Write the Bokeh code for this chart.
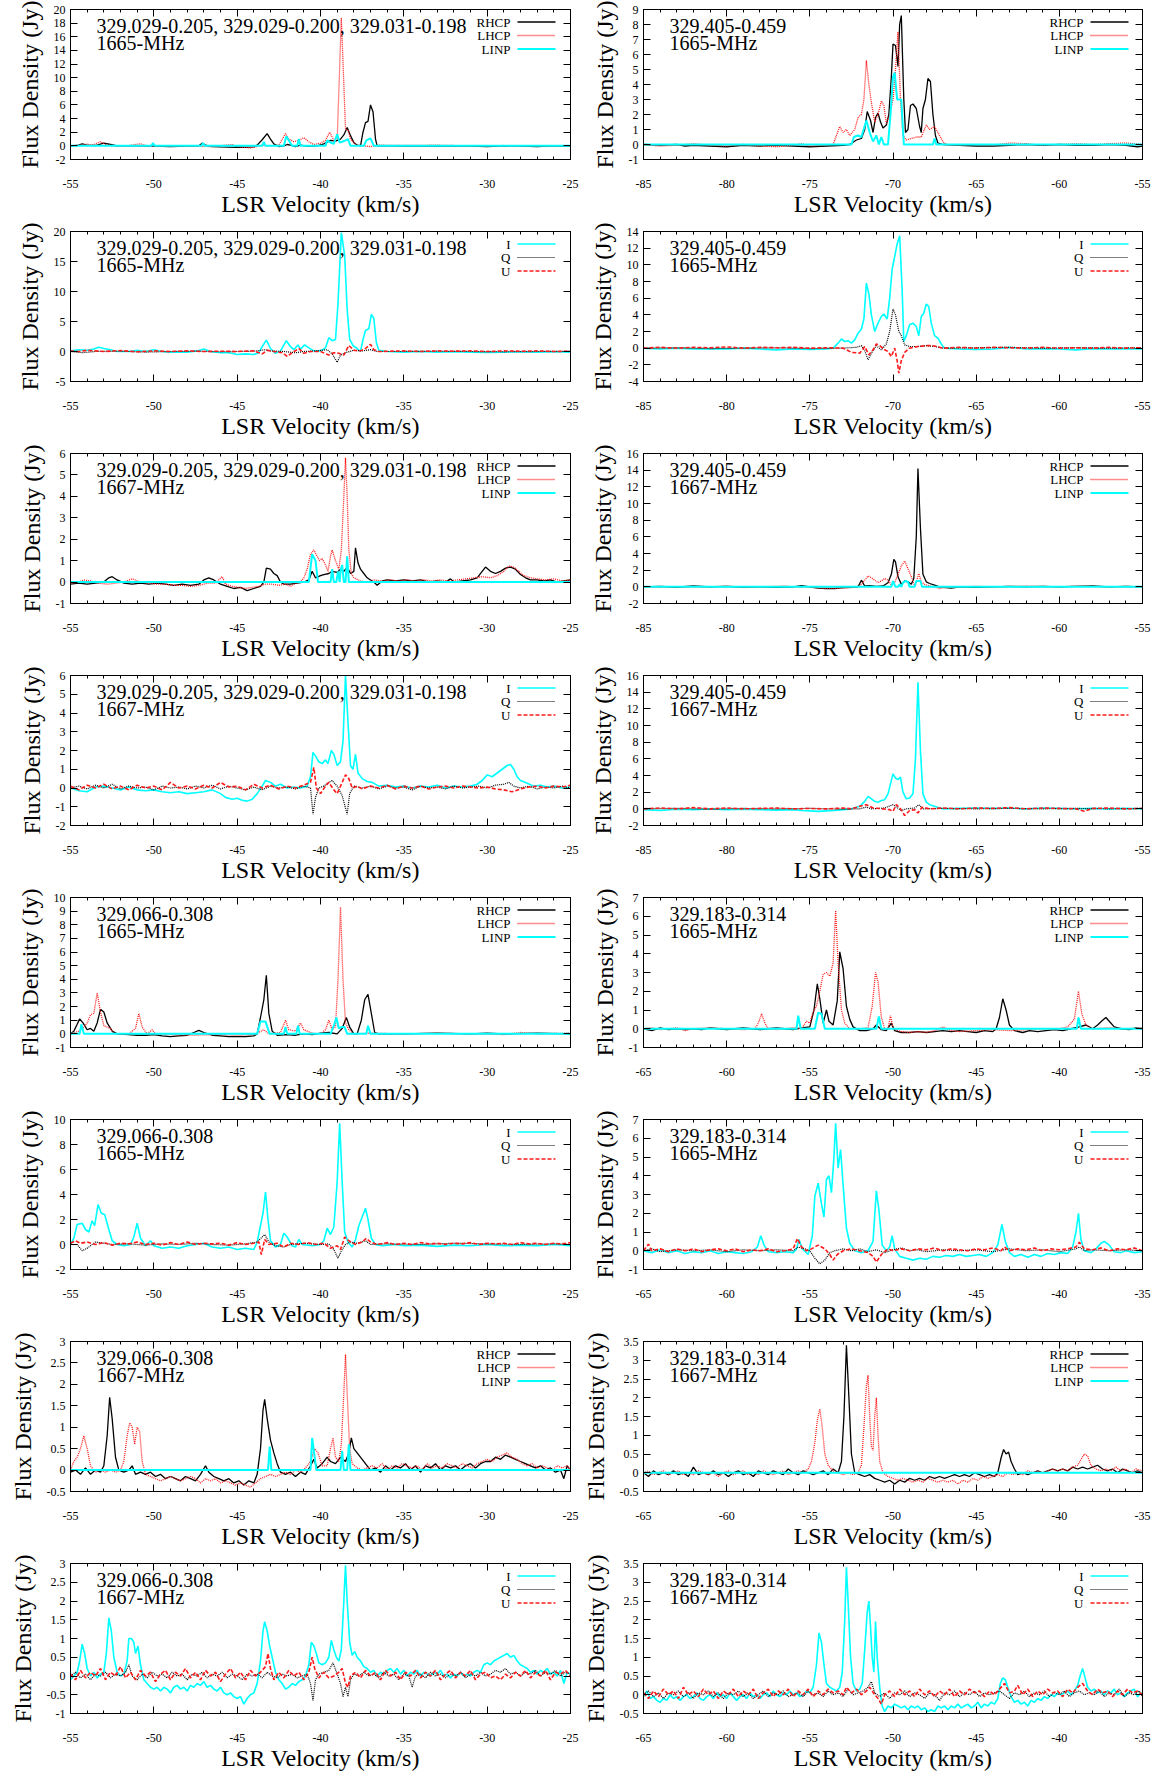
from bokeh.plotting import figure
from bokeh.layouts import gridplot
from bokeh.models import Range1d, FixedTicker, CustomJSTickFormatter, LinearAxis, Label, Arrow
from bokeh.embed import file_html
from bokeh.resources import INLINE

# ---------------- tick labels ----------------
X_TICKS_A = [-55, -50, -45, -40, -35, -30, -25]
X_TICKS_B = [-85, -80, -75, -70, -65, -60, -55]
X_TICKS_C = [-65, -60, -55, -50, -45, -40, -35]

YT_A = [-2, 0, 2, 4, 6, 8, 10, 12, 14, 16, 18, 20]
YT_B = [-1, 0, 1, 2, 3, 4, 5, 6, 7, 8, 9]
YT_C = [-5, 0, 5, 10, 15, 20]
YT_D = [-4, -2, 0, 2, 4, 6, 8, 10, 12, 14]
YT_E = [-1, 0, 1, 2, 3, 4, 5, 6]
YT_F = [-2, 0, 2, 4, 6, 8, 10, 12, 14, 16]
YT_G = [-2, -1, 0, 1, 2, 3, 4, 5, 6]
YT_H = [-2, 0, 2, 4, 6, 8, 10, 12, 14, 16]
YT_I = [-1, 0, 1, 2, 3, 4, 5, 6, 7, 8, 9, 10]
YT_J = [-1, 0, 1, 2, 3, 4, 5, 6, 7]
YT_K = [-2, 0, 2, 4, 6, 8, 10]
YT_L = [-1, 0, 1, 2, 3, 4, 5, 6, 7]
YT_M = [-0.5, 0, 0.5, 1, 1.5, 2, 2.5, 3]
YT_N = [-0.5, 0, 0.5, 1, 1.5, 2, 2.5, 3, 3.5]
YT_O = [-1, -0.5, 0, 0.5, 1, 1.5, 2, 2.5, 3]
YT_P = [-0.5, 0, 0.5, 1, 1.5, 2, 2.5, 3, 3.5]

SRC_1 = "329.029-0.205, 329.029-0.200, 329.031-0.198"
SRC_2 = "329.405-0.459"
SRC_3 = "329.066-0.308"
SRC_4 = "329.183-0.314"
CIRC_NAMES = ["RHCP", "LHCP", "LINP"]
STOKES_NAMES = ["I", "Q", "U"]

# ---------------- spectra (velocity km/s, flux Jy) ----------------
A_rhcp = [(-55,0.0),(-54.6,0.05),(-54.3,0.3),(-54.0,0.1),(-53.5,0.05),(-53.0,0.4),(-52.6,0.2),(-52.2,0.0),(-51,0.0),(-50,-0.05),(-49,-0.1),(-48,-0.05),(-47.3,0.0),(-47.1,0.4),(-46.9,0.1),(-46.5,-0.1),(-46,-0.15),(-45,-0.2),(-44.5,-0.2),(-44,-0.15),(-43.8,0.1),(-43.5,0.9),(-43.2,1.8),(-43.0,1.0),(-42.8,0.3),(-42.5,-0.1),(-42.2,0.0),(-42.0,0.2),(-41.8,0.1),(-41.5,-0.1),(-41.2,0.1),(-40.8,-0.05),(-40.2,0.0),(-39.8,0.3),(-39.4,0.8),(-39.1,0.7),(-38.8,1.0),(-38.6,1.6),(-38.4,2.7),(-38.2,1.5),(-38.0,0.5),(-37.8,0.1),(-37.6,0.0),(-37.45,2.0),(-37.3,3.4),(-37.15,3.6),(-37.0,6.0),(-36.85,5.0),(-36.7,1.0),(-36.6,0.0),(-36,0.0),(-35,-0.05),(-34,0.0),(-33,-0.05),(-32,0.0),(-31,-0.05),(-30,-0.1),(-29,0.0),(-28,-0.05),(-27,-0.1),(-26,0.0),(-25,-0.05)]
A_lhcp = [(-55,0.0),(-54.4,0.1),(-54.0,0.25),(-53.7,0.1),(-53.2,0.6),(-52.9,0.2),(-52.5,0.0),(-51.5,0.05),(-50.8,0.3),(-50.5,0.05),(-49.5,0.0),(-48,-0.05),(-46.5,-0.1),(-45.3,0.2),(-45.0,-0.1),(-44.2,-0.3),(-43.8,-0.1),(-43.5,0.1),(-43.2,0.0),(-42.5,0.1),(-42.1,1.8),(-41.9,1.0),(-41.6,0.6),(-41.3,0.8),(-41.0,1.2),(-40.7,0.6),(-40.4,0.2),(-40.0,0.4),(-39.7,0.8),(-39.45,2.0),(-39.2,0.8),(-39.0,1.0),(-38.9,8.0),(-38.75,18.8),(-38.6,9.0),(-38.5,2.5),(-38.35,2.3),(-38.2,1.0),(-37.9,0.2),(-37.5,0.0),(-37,-0.1),(-36.5,0.1),(-35,0.05),(-33,0.1),(-31,0.0),(-29,0.05),(-27,0.0),(-25,0.05)]
A_linp = [(-55,0.0),(-50.15,0.0),(-50.05,0.4),(-49.95,0.0),(-47.15,0.0),(-47.05,0.4),(-46.95,0.0),(-43.5,0.0),(-43.4,0.6),(-43.3,0.0),(-42.2,0.0),(-42.05,1.4),(-41.85,0.6),(-41.7,0.0),(-41.4,0.0),(-41.3,1.0),(-41.2,0.0),(-39.7,0.0),(-39.6,0.8),(-39.4,0.5),(-39.2,0.3),(-39.0,1.7),(-38.85,0.5),(-38.7,0.6),(-38.5,0.8),(-38.35,1.0),(-38.2,0.0),(-37.4,0.0),(-37.25,0.8),(-37.0,1.1),(-36.8,0.0),(-25,0.0)]

B_rhcp = [(-85,0.0),(-84,-0.05),(-83,0.0),(-82.5,-0.1),(-82,-0.05),(-81,-0.1),(-80,-0.15),(-79,-0.05),(-78,-0.1),(-77,-0.05),(-76,-0.1),(-75,-0.15),(-74,-0.1),(-73,-0.05),(-72.6,0.0),(-72.2,0.3),(-71.9,0.4),(-71.7,1.0),(-71.55,2.2),(-71.35,1.6),(-71.2,0.8),(-71.05,1.8),(-70.9,2.1),(-70.75,1.5),(-70.6,1.1),(-70.4,1.3),(-70.25,2.0),(-70.1,4.5),(-70.0,6.7),(-69.85,6.6),(-69.7,5.2),(-69.6,8.0),(-69.5,8.6),(-69.35,3.0),(-69.25,0.8),(-69.1,1.0),(-68.95,2.6),(-68.8,2.7),(-68.6,2.4),(-68.4,1.2),(-68.3,0.8),(-68.2,2.4),(-68.05,3.0),(-67.9,4.4),(-67.75,4.2),(-67.6,2.0),(-67.45,0.6),(-67.3,0.1),(-67.0,0.0),(-66,-0.05),(-65,-0.1),(-64,-0.1),(-63,-0.05),(-62,0.0),(-61,-0.05),(-60,0.0),(-59,-0.05),(-58,-0.05),(-57,0.0),(-56,-0.05),(-55.3,-0.15),(-55,-0.1)]
B_lhcp = [(-85,0.0),(-84,-0.1),(-83,-0.05),(-82,0.05),(-81,-0.05),(-80,-0.1),(-79,0.0),(-78,-0.1),(-77,-0.15),(-76,-0.05),(-75.5,0.05),(-75,-0.1),(-74,-0.05),(-73.6,0.0),(-73.4,0.6),(-73.2,1.2),(-73.0,0.8),(-72.8,1.0),(-72.6,0.6),(-72.3,1.0),(-72.1,1.8),(-71.9,2.0),(-71.75,3.0),(-71.6,5.6),(-71.45,4.0),(-71.3,2.8),(-71.1,1.5),(-70.9,2.0),(-70.7,2.9),(-70.55,2.6),(-70.4,1.4),(-70.2,2.0),(-70.0,3.0),(-69.85,5.0),(-69.7,7.5),(-69.55,3.0),(-69.4,0.6),(-69.2,0.3),(-68.9,0.4),(-68.6,0.5),(-68.3,0.5),(-68.0,1.3),(-67.8,1.0),(-67.5,1.2),(-67.3,0.8),(-67.0,0.2),(-66.8,0.0),(-66,-0.05),(-65,0.0),(-64,-0.05),(-63,0.1),(-62,0.05),(-61,-0.05),(-60,0.0),(-59,0.05),(-58,0.0),(-57,0.05),(-56,0.1),(-55,0.0)]
B_linp = [(-85,0.0),(-72.5,0.0),(-72.35,0.5),(-72.1,0.6),(-71.9,0.5),(-71.6,1.6),(-71.4,0.8),(-71.2,0.2),(-71.0,0.6),(-70.85,0.0),(-70.7,0.5),(-70.55,0.0),(-70.3,0.0),(-70.15,2.0),(-70.0,4.5),(-69.9,4.8),(-69.75,3.0),(-69.5,3.0),(-69.35,0.0),(-67.6,0.0),(-67.5,0.4),(-67.4,0.0),(-55,0.0)]

C_i = [(-55,0.1),(-54.5,0.3),(-54.0,0.2),(-53.6,0.4),(-53.3,0.7),(-53.0,0.5),(-52.6,0.3),(-52.2,0.0),(-51.5,0.0),(-51.0,0.2),(-50.5,0.0),(-50.0,0.3),(-49.5,0.0),(-49.0,-0.1),(-48.0,-0.1),(-47.4,0.1),(-47.0,0.4),(-46.6,0.0),(-46.0,-0.2),(-45.5,-0.2),(-45.0,-0.5),(-44.5,-0.4),(-44.0,-0.5),(-43.7,-0.2),(-43.5,0.8),(-43.25,1.9),(-43.0,0.5),(-42.7,-0.3),(-42.4,0.1),(-42.05,1.8),(-41.8,0.8),(-41.6,0.3),(-41.35,1.1),(-41.2,0.4),(-40.95,1.1),(-40.7,0.6),(-40.4,0.1),(-40.0,0.1),(-39.7,0.6),(-39.5,2.3),(-39.3,1.8),(-39.1,2.0),(-38.95,8.0),(-38.75,19.8),(-38.55,16.0),(-38.4,7.0),(-38.25,2.0),(-38.05,1.0),(-37.8,0.5),(-37.6,0.0),(-37.45,2.0),(-37.3,3.5),(-37.1,3.8),(-36.95,6.2),(-36.8,5.5),(-36.65,1.5),(-36.5,0.2),(-36.0,0.0),(-35.0,-0.1),(-34.0,0.0),(-33.0,-0.1),(-32.0,-0.05),(-31.0,-0.1),(-30.0,-0.15),(-29.0,-0.1),(-28.0,-0.05),(-27.0,-0.1),(-26.0,-0.05),(-25.0,-0.1)]
C_q = [(-55,0.0),(-54.3,-0.2),(-53.5,0.0),(-52,0.05),(-50.5,-0.1),(-49,0.0),(-47.5,0.05),(-46,-0.05),(-45,0.0),(-44,0.05),(-43.3,0.3),(-43.0,0.1),(-42.2,0.0),(-41.5,-0.2),(-41.0,0.0),(-40.3,0.1),(-39.6,0.3),(-39.3,-0.4),(-39.0,-1.8),(-38.8,-0.6),(-38.5,-0.2),(-38.0,0.2),(-37.5,0.1),(-37.0,0.3),(-36.6,0.0),(-35,0.0),(-33,0.05),(-31,0.0),(-29,-0.05),(-27,0.0),(-25,0.05)]
C_u = [(-55,0.1),(-54.5,0.0),(-54,0.2),(-53,0.0),(-52,0.15),(-51,-0.05),(-50,0.1),(-49,0.0),(-48,0.1),(-47,0.0),(-46,0.05),(-45,0.0),(-44,0.1),(-43.5,-0.4),(-43.2,0.2),(-42.8,0.0),(-42.3,-0.2),(-42.0,-0.8),(-41.7,-0.2),(-41.3,0.5),(-41.0,-0.3),(-40.6,0.0),(-40.0,0.0),(-39.5,-0.6),(-39.2,-0.2),(-38.9,-0.3),(-38.6,-0.6),(-38.3,1.0),(-38.0,0.2),(-37.6,0.1),(-37.3,0.5),(-37.0,1.2),(-36.8,0.3),(-36.5,0.0),(-35,0.1),(-34,0.0),(-33,0.1),(-32,0.05),(-31,0.1),(-30,0.0),(-29,0.1),(-28,0.05),(-27,0.1),(-26,0.0),(-25,0.05)]

D_i = [(-85,0.0),(-84,-0.1),(-83,0.0),(-82,-0.1),(-81,-0.05),(-80,-0.1),(-79,0.0),(-78,-0.1),(-77,-0.2),(-76,-0.1),(-75,-0.15),(-74,-0.1),(-73.6,0.0),(-73.3,0.6),(-73.1,1.1),(-72.9,0.8),(-72.7,0.9),(-72.5,0.6),(-72.3,1.0),(-72.1,1.8),(-71.9,2.3),(-71.75,3.5),(-71.6,7.8),(-71.45,6.5),(-71.3,4.0),(-71.1,2.0),(-70.9,3.0),(-70.7,3.8),(-70.55,4.1),(-70.35,3.5),(-70.2,6.0),(-70.05,9.5),(-69.9,11.0),(-69.75,12.5),(-69.6,13.5),(-69.45,7.0),(-69.35,0.8),(-69.2,1.5),(-69.0,2.8),(-68.8,3.0),(-68.6,2.6),(-68.45,1.5),(-68.3,3.8),(-68.15,4.2),(-68.0,5.3),(-67.85,5.0),(-67.7,3.0),(-67.5,1.5),(-67.3,1.2),(-67.1,0.5),(-66.9,0.0),(-66,-0.1),(-65,-0.15),(-64,-0.1),(-63,0.1),(-62,-0.1),(-61,-0.05),(-60,-0.1),(-59,-0.2),(-58,-0.05),(-57,-0.1),(-56,-0.05),(-55,-0.1)]
D_q = [(-85,0.0),(-83,0.05),(-81,-0.05),(-79,0.0),(-77,0.05),(-75,-0.05),(-73,0.0),(-72.2,0.1),(-71.9,0.3),(-71.7,-0.3),(-71.5,-1.4),(-71.3,-0.6),(-71.0,0.3),(-70.7,-0.2),(-70.4,0.5),(-70.2,2.0),(-70.0,4.7),(-69.85,4.0),(-69.65,2.0),(-69.5,1.5),(-69.3,0.4),(-69.0,0.2),(-68.5,0.2),(-68.0,0.3),(-67.5,0.2),(-67.0,0.0),(-65,0.05),(-63,0.1),(-61,0.0),(-59,0.05),(-57,0.0),(-55,0.05)]
D_u = [(-85,0.0),(-84,0.1),(-83,0.0),(-82,0.1),(-81,0.05),(-80,0.15),(-79,0.0),(-78,0.1),(-77,0.05),(-76,0.1),(-75,0.0),(-74,0.05),(-73,0.0),(-72.5,-0.5),(-72.0,-0.6),(-71.7,0.2),(-71.45,-0.8),(-71.2,-0.2),(-71.0,0.5),(-70.8,0.3),(-70.5,-0.2),(-70.3,-0.4),(-70.1,-1.0),(-69.9,0.0),(-69.75,-1.5),(-69.65,-3.0),(-69.5,-1.5),(-69.3,-0.5),(-69.0,0.0),(-68.5,0.2),(-68.0,0.3),(-67.6,0.3),(-67.0,0.0),(-66,0.1),(-65,0.0),(-64,0.1),(-63,0.05),(-62,0.0),(-61,0.1),(-60,0.0),(-59,0.05),(-58,0.0),(-57,0.1),(-56,0.0),(-55,0.05)]

E_rhcp = [(-55,-0.1),(-54.5,-0.05),(-54,-0.1),(-53.5,-0.05),(-53,0.0),(-52.7,0.2),(-52.5,0.25),(-52.2,0.1),(-51.8,-0.05),(-51.3,-0.1),(-50.8,-0.05),(-50.3,-0.1),(-49.8,-0.05),(-49.3,-0.1),(-48.8,-0.15),(-48.3,-0.1),(-47.8,-0.15),(-47.3,-0.1),(-47.0,0.1),(-46.7,0.2),(-46.4,0.1),(-46.0,-0.1),(-45.6,-0.2),(-45.2,-0.3),(-44.8,-0.25),(-44.4,-0.4),(-44.0,-0.3),(-43.6,-0.2),(-43.4,0.0),(-43.25,0.65),(-43.0,0.6),(-42.8,0.4),(-42.6,0.3),(-42.4,0.0),(-42.2,-0.1),(-41.8,-0.1),(-41.4,-0.05),(-41.0,0.0),(-40.7,0.1),(-40.5,0.5),(-40.3,0.2),(-40.0,0.3),(-39.8,0.35),(-39.5,0.4),(-39.3,0.5),(-39.0,0.45),(-38.8,0.6),(-38.6,0.5),(-38.4,0.7),(-38.2,0.4),(-38.0,0.5),(-37.9,1.6),(-37.75,0.9),(-37.6,0.6),(-37.4,0.4),(-37.2,0.2),(-37.0,0.1),(-36.8,0.0),(-36.6,-0.15),(-36.3,0.05),(-36.0,0.1),(-35.5,0.05),(-35.0,0.1),(-34.5,0.05),(-34.0,0.1),(-33.5,0.0),(-33.0,0.05),(-32.5,0.0),(-32.2,0.15),(-32.0,0.0),(-31.5,0.05),(-31.0,0.1),(-30.6,0.2),(-30.3,0.5),(-30.1,0.7),(-29.8,0.5),(-29.5,0.4),(-29.2,0.5),(-28.9,0.65),(-28.6,0.7),(-28.3,0.6),(-28.0,0.35),(-27.7,0.2),(-27.4,0.1),(-27.0,0.1),(-26.6,0.05),(-26.2,0.1),(-25.8,0.0),(-25.4,0.05),(-25,0.1)]
E_lhcp = [(-55,-0.05),(-54.5,0.0),(-54.2,0.1),(-53.8,0.05),(-53.3,-0.05),(-52.8,-0.1),(-52.3,-0.05),(-51.8,0.0),(-51.3,0.15),(-50.8,0.0),(-50.3,-0.05),(-49.8,-0.1),(-49.3,-0.1),(-48.8,-0.15),(-48.3,-0.15),(-47.8,-0.2),(-47.3,-0.15),(-46.8,-0.05),(-46.3,-0.05),(-45.9,0.25),(-45.7,-0.1),(-45.3,-0.2),(-44.9,-0.25),(-44.5,-0.3),(-44.1,-0.25),(-43.7,-0.2),(-43.3,-0.1),(-42.9,-0.1),(-42.5,-0.15),(-42.1,-0.1),(-41.8,-0.2),(-41.5,-0.05),(-41.2,0.0),(-41.0,0.2),(-40.8,0.6),(-40.6,1.3),(-40.4,1.5),(-40.2,1.2),(-40.05,1.0),(-39.9,1.1),(-39.7,0.8),(-39.55,0.5),(-39.4,1.2),(-39.3,1.5),(-39.1,1.0),(-38.9,0.6),(-38.75,1.5),(-38.6,4.0),(-38.5,5.8),(-38.4,4.0),(-38.3,1.5),(-38.15,0.4),(-38.0,0.2),(-37.6,0.05),(-37.2,0.0),(-36.8,0.1),(-36.3,0.05),(-35.8,0.1),(-35.3,0.05),(-34.8,0.1),(-34.3,0.05),(-33.8,0.1),(-33.3,0.05),(-32.8,0.1),(-32.3,0.05),(-31.8,0.1),(-31.3,0.15),(-30.8,0.2),(-30.3,0.25),(-29.8,0.2),(-29.4,0.3),(-29.0,0.5),(-28.7,0.75),(-28.4,0.7),(-28.1,0.5),(-27.8,0.3),(-27.4,0.2),(-27.0,0.15),(-26.5,0.1),(-26.0,0.15),(-25.5,0.05),(-25,0.1)]
E_linp = [(-55,0.0),(-40.7,0.0),(-40.5,1.3),(-40.3,1.0),(-40.15,0.0),(-39.4,0.0),(-39.3,0.6),(-39.2,0.0),(-39.05,0.0),(-38.95,0.5),(-38.85,0.0),(-38.8,0.5),(-38.7,0.8),(-38.6,0.0),(-38.5,0.0),(-38.4,1.2),(-38.3,0.0),(-25,0.0)]

F_rhcp = [(-85,0.0),(-84,0.05),(-83,-0.05),(-82,0.1),(-81,0.0),(-80,0.05),(-79,-0.05),(-78,0.0),(-77,-0.05),(-76,0.0),(-75.5,0.15),(-75,0.0),(-74.5,-0.15),(-74,-0.2),(-73.5,-0.2),(-73,-0.1),(-72.5,-0.05),(-72.1,0.0),(-71.9,0.8),(-71.7,0.1),(-71.4,0.15),(-71.0,0.05),(-70.6,0.1),(-70.3,0.5),(-70.1,1.5),(-69.95,3.3),(-69.85,3.0),(-69.7,1.2),(-69.5,0.3),(-69.3,0.7),(-69.1,0.6),(-68.9,0.3),(-68.75,1.0),(-68.6,6.0),(-68.5,14.2),(-68.35,7.0),(-68.2,1.5),(-68.0,0.6),(-67.8,0.4),(-67.5,0.2),(-67.2,0.0),(-66.8,-0.1),(-66.5,-0.15),(-66,0.0),(-65,-0.05),(-64,0.0),(-63,0.05),(-62,0.0),(-61,0.05),(-60,0.0),(-59,0.05),(-58,0.1),(-57,0.0),(-56,0.05),(-55,0.0)]
F_lhcp = [(-85,0.0),(-84,-0.05),(-83,0.0),(-82,-0.05),(-81,0.0),(-80,0.1),(-79,-0.05),(-78,0.0),(-77,0.05),(-76.5,0.1),(-76,0.0),(-75,-0.05),(-74,-0.2),(-73,-0.15),(-72.3,-0.05),(-72.0,0.1),(-71.7,0.8),(-71.5,1.3),(-71.3,1.1),(-71.1,0.8),(-70.9,0.5),(-70.7,0.7),(-70.5,1.0),(-70.3,0.8),(-70.1,0.2),(-69.9,0.5),(-69.7,1.5),(-69.5,2.5),(-69.3,3.1),(-69.1,2.2),(-68.9,1.2),(-68.7,0.1),(-68.6,0.5),(-68.45,1.6),(-68.3,0.6),(-68.1,0.3),(-67.8,0.1),(-67.5,0.0),(-67.2,-0.2),(-67,-0.1),(-66,0.0),(-65,0.05),(-64,0.0),(-63,0.05),(-62,0.1),(-61,0.05),(-60,0.0),(-59,0.1),(-58,0.05),(-57,0.0),(-56,0.05),(-55,0.0)]
F_linp = [(-85,0.0),(-70.1,0.0),(-70.0,0.7),(-69.85,0.0),(-69.7,0.0),(-69.6,0.3),(-69.5,0.0),(-69.4,0.5),(-69.25,0.7),(-69.1,0.6),(-69.0,0.0),(-68.7,0.0),(-68.6,0.7),(-68.35,0.7),(-68.25,0.0),(-55,0.0)]

G_i = [(-55,0.0),(-54.5,-0.15),(-54.0,-0.2),(-53.5,0.05),(-53.0,0.1),(-52.5,0.0),(-52.0,-0.1),(-51.5,0.05),(-51.0,-0.1),(-50.5,-0.15),(-50.0,-0.1),(-49.5,-0.2),(-49.0,-0.25),(-48.5,-0.2),(-48.0,-0.3),(-47.5,-0.25),(-47.0,-0.2),(-46.5,-0.1),(-46.0,-0.3),(-45.7,-0.5),(-45.3,-0.6),(-45.0,-0.55),(-44.7,-0.65),(-44.4,-0.7),(-44.1,-0.6),(-43.8,-0.3),(-43.5,0.1),(-43.3,0.4),(-43.0,0.3),(-42.7,0.1),(-42.4,0.2),(-42.0,0.0),(-41.6,0.05),(-41.2,0.0),(-40.8,0.1),(-40.6,0.6),(-40.45,1.9),(-40.3,1.7),(-40.1,1.4),(-39.9,1.3),(-39.7,1.5),(-39.55,1.3),(-39.35,2.0),(-39.2,1.8),(-39.0,1.2),(-38.8,1.4),(-38.65,2.5),(-38.5,6.0),(-38.35,3.5),(-38.2,1.2),(-38.05,1.0),(-37.9,1.8),(-37.75,0.8),(-37.5,0.5),(-37.2,0.35),(-36.9,0.3),(-36.5,0.1),(-36.0,0.15),(-35.5,0.05),(-35.0,0.1),(-34.5,0.0),(-34.0,0.1),(-33.5,0.05),(-33.0,0.15),(-32.5,0.0),(-32.0,0.1),(-31.5,0.05),(-31.0,0.1),(-30.6,0.2),(-30.3,0.4),(-30.0,0.7),(-29.7,0.6),(-29.4,0.8),(-29.1,1.0),(-28.8,1.2),(-28.6,1.25),(-28.4,1.0),(-28.2,0.6),(-28.0,0.4),(-27.6,0.25),(-27.2,0.1),(-26.8,0.15),(-26.4,0.05),(-26.0,0.1),(-25.5,0.0),(-25.0,0.05)]
G_q = [(-55,0.0),(-54.5,0.1),(-54.0,-0.05),(-53.5,0.15),(-53.0,0.0),(-52.5,0.2),(-52.0,-0.05),(-51.5,0.1),(-51.0,0.0),(-50.5,0.05),(-50.0,-0.1),(-49.5,0.1),(-49.0,0.0),(-48.5,0.05),(-48.0,-0.05),(-47.5,0.1),(-47.0,0.0),(-46.5,0.15),(-46.0,-0.05),(-45.5,0.1),(-45.0,0.0),(-44.5,-0.1),(-44.0,0.05),(-43.5,-0.1),(-43.0,0.1),(-42.5,0.0),(-42.0,0.05),(-41.5,-0.05),(-41.0,0.1),(-40.6,0.0),(-40.45,-1.4),(-40.3,-0.5),(-40.1,0.0),(-39.8,0.1),(-39.5,0.3),(-39.3,0.4),(-39.0,0.1),(-38.7,-0.4),(-38.4,-1.4),(-38.25,-0.3),(-38.0,0.1),(-37.5,0.0),(-37.0,0.1),(-36.5,-0.05),(-36.0,0.1),(-35.5,0.0),(-35.0,0.05),(-34.5,-0.1),(-34.0,0.1),(-33.5,0.0),(-33.0,0.05),(-32.5,-0.05),(-32.0,0.1),(-31.5,0.0),(-31.0,0.05),(-30.5,0.1),(-30.0,0.0),(-29.5,0.15),(-29.0,0.2),(-28.7,0.3),(-28.4,0.1),(-28.0,0.0),(-27.5,0.1),(-27.0,-0.05),(-26.5,0.05),(-26.0,0.0),(-25.5,0.1),(-25.0,0.0)]
G_u = [(-55,0.1),(-54.5,-0.1),(-54.0,0.15),(-53.5,0.0),(-53.0,0.2),(-52.5,-0.05),(-52.0,0.1),(-51.5,-0.1),(-51.0,0.15),(-50.5,0.0),(-50.0,0.1),(-49.5,-0.1),(-49.0,0.3),(-48.5,0.0),(-48.0,0.1),(-47.5,-0.05),(-47.0,0.15),(-46.5,0.0),(-46.0,0.3),(-45.5,0.05),(-45.0,0.1),(-44.5,-0.1),(-44.0,0.2),(-43.5,0.0),(-43.0,0.15),(-42.5,-0.05),(-42.0,0.1),(-41.5,0.0),(-41.0,0.15),(-40.6,0.3),(-40.4,1.1),(-40.25,0.0),(-40.0,-0.3),(-39.7,0.1),(-39.5,0.3),(-39.2,-0.1),(-39.0,-0.3),(-38.8,0.1),(-38.5,0.7),(-38.3,0.5),(-38.1,0.0),(-37.8,0.1),(-37.5,-0.05),(-37.0,0.1),(-36.5,0.0),(-36.0,0.15),(-35.5,-0.05),(-35.0,0.1),(-34.5,0.0),(-34.0,0.1),(-33.5,-0.05),(-33.0,0.05),(-32.5,0.1),(-32.0,0.0),(-31.5,0.1),(-31.0,0.05),(-30.5,0.0),(-30.0,0.05),(-29.5,-0.05),(-29.0,-0.1),(-28.5,-0.2),(-28.0,-0.05),(-27.5,0.05),(-27.0,0.1),(-26.5,0.0),(-26.0,0.1),(-25.5,0.05),(-25.0,0.15)]

H_i = [(-85,-0.1),(-84,-0.2),(-83,-0.05),(-82,-0.1),(-81,0.0),(-80,-0.1),(-79,-0.05),(-78,-0.1),(-77,-0.15),(-76,-0.1),(-75.5,-0.2),(-75,-0.25),(-74.5,-0.3),(-74,-0.25),(-73.5,-0.2),(-73,-0.1),(-72.5,0.0),(-72.0,0.3),(-71.7,0.9),(-71.5,1.5),(-71.3,1.2),(-71.1,0.9),(-70.9,0.8),(-70.7,1.0),(-70.5,1.1),(-70.3,1.8),(-70.15,3.0),(-70.0,4.2),(-69.85,3.7),(-69.7,3.5),(-69.55,3.8),(-69.4,2.0),(-69.2,1.2),(-69.0,1.3),(-68.8,1.8),(-68.65,6.0),(-68.5,15.2),(-68.35,7.0),(-68.2,1.8),(-68.0,0.8),(-67.8,0.5),(-67.5,0.3),(-67.2,0.1),(-67,0.0),(-66,0.05),(-65,0.1),(-64,0.05),(-63,0.1),(-62,0.0),(-61,0.1),(-60,0.05),(-59,0.0),(-58,0.05),(-57,0.0),(-56,0.05),(-55,0.0)]
H_q = [(-85,0.0),(-83,0.05),(-81,-0.05),(-79,0.05),(-77,0.0),(-75,0.05),(-73,-0.05),(-72,0.0),(-71.6,0.2),(-71.3,0.0),(-70.5,0.1),(-70.0,0.5),(-69.8,0.2),(-69.5,-0.2),(-69.2,0.0),(-68.7,0.1),(-68.45,0.5),(-68.2,0.0),(-67,0.05),(-65,0.0),(-63,0.05),(-61,0.0),(-59,0.05),(-57,0.0),(-55,0.05)]
H_u = [(-85,0.0),(-84,0.1),(-83,0.0),(-82,0.15),(-81,0.0),(-80,0.1),(-79,0.0),(-78,0.05),(-77,0.1),(-76,0.0),(-75,0.05),(-74,0.0),(-73,0.1),(-72.5,0.0),(-72.0,0.3),(-71.6,0.5),(-71.2,0.1),(-70.6,0.0),(-70.2,-0.1),(-70.0,-0.3),(-69.8,0.5),(-69.55,0.0),(-69.3,-0.8),(-69.0,-0.2),(-68.7,-0.1),(-68.5,-0.5),(-68.25,0.2),(-67.8,0.0),(-67,0.1),(-66,0.0),(-65,0.1),(-64,0.05),(-63,0.15),(-62,0.0),(-61,0.1),(-60,0.05),(-59,0.0),(-58.5,-0.3),(-58,0.05),(-57,0.1),(-56,0.0),(-55,0.05)]

I_rhcp = [(-55,0.0),(-54.8,0.2),(-54.6,0.7),(-54.45,1.1),(-54.25,0.8),(-54.0,0.3),(-53.8,0.4),(-53.6,0.2),(-53.4,0.8),(-53.2,1.8),(-53.0,1.6),(-52.8,0.8),(-52.5,0.2),(-52.2,0.0),(-51.5,-0.05),(-51.0,-0.1),(-50.5,-0.1),(-50.0,-0.05),(-49.5,-0.15),(-49.0,-0.2),(-48.5,-0.15),(-48.0,-0.1),(-47.6,0.1),(-47.3,0.25),(-47.0,0.1),(-46.5,-0.1),(-46.0,-0.15),(-45.5,-0.2),(-45.0,-0.2),(-44.5,-0.2),(-44.0,-0.15),(-43.8,0.0),(-43.6,1.2),(-43.4,2.5),(-43.25,4.3),(-43.1,1.5),(-42.9,0.2),(-42.6,-0.1),(-42.0,-0.05),(-41.5,-0.1),(-41.0,0.0),(-40.5,-0.05),(-40.0,0.05),(-39.5,0.1),(-39.0,0.0),(-38.7,0.4),(-38.45,1.2),(-38.25,0.5),(-38.0,0.0),(-37.8,0.0),(-37.55,1.0),(-37.35,2.5),(-37.15,2.9),(-36.95,1.5),(-36.75,0.1),(-36.5,0.0),(-35,0.0),(-33,0.05),(-31,0.0),(-30,0.05),(-29,0.0),(-27,0.05),(-25,0.0)]
I_lhcp = [(-55,0.0),(-54.5,0.2),(-54.2,0.5),(-54.0,0.8),(-53.8,1.4),(-53.6,1.5),(-53.4,3.0),(-53.2,1.6),(-53.0,0.6),(-52.8,0.5),(-52.6,0.4),(-52.4,0.0),(-51.5,0.0),(-51.1,0.4),(-50.9,1.5),(-50.7,0.5),(-50.4,0.0),(-50.1,0.3),(-49.9,0.0),(-48,-0.1),(-46,-0.05),(-45,-0.1),(-44,-0.05),(-43.4,0.3),(-43.1,0.0),(-42.4,0.1),(-42.1,1.0),(-41.9,0.3),(-41.5,0.2),(-41.2,0.8),(-41.0,0.3),(-40.5,0.05),(-40.0,0.0),(-39.7,0.3),(-39.5,1.0),(-39.3,0.3),(-39.1,0.5),(-38.95,4.0),(-38.8,9.3),(-38.65,4.0),(-38.5,0.8),(-38.3,0.3),(-38.0,0.0),(-37,0.05),(-35,0.0),(-33,0.05),(-31,0.0),(-29,-0.05),(-28,0.1),(-27,0.0),(-25,0.05)]
I_linp = [(-55,0.0),(-54.45,0.0),(-54.35,0.7),(-54.2,0.0),(-43.8,0.0),(-43.6,0.9),(-43.3,0.9),(-43.05,0.0),(-42.2,0.0),(-42.1,0.5),(-42.0,0.0),(-41.45,0.0),(-41.35,0.6),(-41.25,0.0),(-39.4,0.0),(-39.2,0.6),(-39.05,1.2),(-38.9,0.4),(-38.75,0.5),(-38.55,0.5),(-38.4,0.0),(-37.25,0.0),(-37.15,0.6),(-37.0,0.0),(-25,0.0)]

J_rhcp = [(-65,0.0),(-64.5,-0.1),(-64,0.05),(-63.5,-0.05),(-63,0.0),(-62.5,-0.05),(-62,0.0),(-61.5,-0.05),(-61,0.05),(-60.5,0.0),(-60,-0.05),(-59.5,0.0),(-59,0.05),(-58.5,0.0),(-58,-0.05),(-57.5,0.0),(-57,0.05),(-56.5,0.0),(-56,-0.05),(-55.5,0.05),(-55,0.1),(-54.75,1.0),(-54.55,2.4),(-54.4,1.6),(-54.2,0.3),(-54.0,1.0),(-53.85,0.4),(-53.6,0.2),(-53.35,1.5),(-53.2,4.1),(-53.0,3.2),(-52.8,1.2),(-52.6,0.5),(-52.4,0.1),(-52.0,-0.1),(-51.6,-0.1),(-51.2,0.0),(-51.0,0.2),(-50.7,-0.05),(-50.4,-0.1),(-50.1,0.3),(-49.9,-0.1),(-49.5,-0.2),(-49.0,-0.2),(-48.5,-0.15),(-48.0,-0.2),(-47.5,-0.15),(-47.0,-0.1),(-46.5,-0.15),(-46.0,-0.1),(-45.5,-0.15),(-45.0,-0.2),(-44.5,-0.1),(-44.0,-0.15),(-43.8,0.0),(-43.6,0.6),(-43.4,1.6),(-43.2,1.0),(-43.0,0.2),(-42.7,-0.1),(-42.2,-0.2),(-41.8,-0.1),(-41.3,-0.15),(-40.8,-0.1),(-40.3,-0.05),(-39.8,-0.1),(-39.3,0.0),(-38.8,0.1),(-38.4,0.2),(-38.0,0.0),(-37.7,0.2),(-37.4,0.45),(-37.2,0.6),(-37.0,0.4),(-36.7,0.1),(-36.3,0.0),(-35.8,-0.05),(-35.4,0.05),(-35,0.0)]
J_lhcp = [(-65,0.0),(-64.5,0.05),(-64,-0.05),(-63,0.05),(-62.5,-0.1),(-62,0.0),(-61,0.05),(-60,0.0),(-59,-0.05),(-58.3,0.0),(-58.1,0.3),(-57.9,0.8),(-57.7,0.3),(-57.5,0.0),(-57,-0.05),(-56.5,0.0),(-56,0.05),(-55.5,0.0),(-55.2,0.4),(-55.0,0.3),(-54.8,0.9),(-54.6,1.2),(-54.4,2.0),(-54.2,2.9),(-54.0,3.0),(-53.8,2.8),(-53.6,3.5),(-53.45,6.3),(-53.3,3.5),(-53.1,1.0),(-52.9,0.3),(-52.6,0.0),(-52.0,0.0),(-51.5,0.05),(-51.25,1.2),(-51.05,3.0),(-50.9,2.5),(-50.7,0.6),(-50.5,0.0),(-50.3,0.0),(-50.15,0.7),(-50.0,0.0),(-49.5,-0.15),(-49.0,-0.2),(-48.5,-0.15),(-48.0,-0.2),(-47.5,-0.1),(-47.0,0.1),(-46.5,-0.1),(-46.0,-0.15),(-45.0,-0.1),(-44.0,-0.05),(-43.0,-0.1),(-42.0,-0.05),(-41.0,0.0),(-40.0,0.0),(-39.5,0.1),(-39.1,0.5),(-38.85,2.0),(-38.65,0.8),(-38.4,0.2),(-38.0,0.0),(-37.0,0.05),(-36.0,0.0),(-35,0.05)]
J_linp = [(-65,0.0),(-55.8,0.0),(-55.7,0.7),(-55.55,0.0),(-54.7,0.0),(-54.5,0.85),(-54.3,0.8),(-54.1,0.0),(-51.0,0.0),(-50.85,0.65),(-50.7,0.0),(-38.95,0.0),(-38.85,0.6),(-38.7,0.0),(-35,0.0)]

K_i = [(-55,0.0),(-54.8,0.5),(-54.6,1.6),(-54.3,1.7),(-54.1,1.2),(-53.9,1.0),(-53.7,1.9),(-53.55,1.5),(-53.35,3.2),(-53.15,2.5),(-52.95,2.4),(-52.7,1.2),(-52.5,0.3),(-52.2,0.0),(-51.8,-0.1),(-51.4,0.0),(-51.2,0.6),(-51.0,1.7),(-50.8,0.5),(-50.5,-0.1),(-50.2,0.3),(-50.0,-0.1),(-49.5,-0.3),(-49.0,-0.2),(-48.5,-0.3),(-48.0,-0.1),(-47.5,0.0),(-47.0,0.1),(-46.5,-0.2),(-46.0,-0.3),(-45.5,-0.2),(-45.0,-0.4),(-44.5,-0.3),(-44.0,-0.4),(-43.8,0.2),(-43.6,1.5),(-43.45,2.5),(-43.3,4.2),(-43.15,2.0),(-43.0,0.3),(-42.7,-0.2),(-42.4,0.0),(-42.2,0.9),(-42.0,0.6),(-41.7,-0.1),(-41.5,-0.2),(-41.3,0.4),(-41.1,0.0),(-40.5,-0.1),(-40.0,0.0),(-39.8,0.3),(-39.6,1.3),(-39.4,0.8),(-39.2,1.4),(-39.0,5.0),(-38.85,9.7),(-38.7,5.0),(-38.55,1.0),(-38.35,0.2),(-38.1,-0.2),(-37.9,0.4),(-37.7,1.5),(-37.5,2.2),(-37.3,2.9),(-37.15,2.0),(-36.95,0.5),(-36.7,0.0),(-36.3,-0.1),(-35.5,0.0),(-35.0,-0.1),(-34.0,-0.05),(-33.0,-0.15),(-32.0,-0.05),(-31.0,-0.1),(-30.0,0.0),(-29.0,-0.1),(-28.0,-0.05),(-27.0,-0.1),(-26.0,0.0),(-25.0,-0.1)]
K_q = [(-55,0.0),(-54.6,0.0),(-54.3,-0.5),(-54.0,-0.3),(-53.5,0.2),(-53.0,0.1),(-52.5,0.0),(-51.5,0.05),(-50.5,-0.05),(-49.5,0.05),(-48.5,0.0),(-47.5,0.1),(-46.5,0.0),(-45.5,-0.05),(-44.5,0.05),(-43.8,0.2),(-43.5,0.6),(-43.35,0.8),(-43.1,0.2),(-42.7,-0.1),(-42.2,-0.2),(-41.8,0.0),(-41.0,0.1),(-40.0,0.0),(-39.5,0.05),(-39.2,-0.4),(-38.95,-1.1),(-38.75,-0.5),(-38.5,0.0),(-38.2,0.2),(-37.8,0.1),(-37.3,0.3),(-37.0,0.0),(-36,0.05),(-34,0.0),(-32,0.1),(-30,0.05),(-28,0.0),(-26,0.05),(-25,0.0)]
K_u = [(-55,0.1),(-54.7,0.3),(-54.4,0.1),(-54.0,0.2),(-53.5,0.0),(-53.0,0.15),(-52.5,-0.05),(-52.0,0.1),(-51.5,0.05),(-51.0,0.2),(-50.5,0.0),(-50.0,0.1),(-49.5,-0.05),(-49.0,0.15),(-48.5,0.0),(-48.0,0.2),(-47.5,0.0),(-47.0,0.1),(-46.5,0.05),(-46.0,0.1),(-45.5,-0.05),(-45.0,0.15),(-44.5,0.0),(-44.0,0.1),(-43.7,0.2),(-43.55,-0.8),(-43.35,0.4),(-43.1,0.0),(-42.6,0.1),(-42.2,-0.2),(-41.8,0.1),(-41.3,0.0),(-40.8,0.15),(-40.3,0.0),(-39.8,0.1),(-39.4,-0.3),(-39.0,-0.1),(-38.8,-0.4),(-38.55,0.6),(-38.3,0.3),(-37.9,0.0),(-37.5,0.2),(-37.25,0.5),(-37.0,0.2),(-36.6,0.0),(-36.0,0.15),(-35.5,0.0),(-35.0,0.1),(-34.5,0.0),(-34.0,0.15),(-33.5,0.05),(-33.0,0.1),(-32.5,0.0),(-32.0,0.1),(-31.5,0.05),(-31.0,0.15),(-30.5,0.0),(-30.0,0.1),(-29.5,0.05),(-29.0,0.1),(-28.5,0.0),(-28.0,0.15),(-27.5,0.05),(-27.0,0.1),(-26.5,0.0),(-26.0,0.1),(-25.5,0.05),(-25.0,0.15)]

L_i = [(-65,0.0),(-64.5,-0.1),(-64,0.05),(-63.5,-0.1),(-63,0.0),(-62.5,-0.15),(-62,-0.05),(-61.5,-0.1),(-61,0.0),(-60.5,-0.15),(-60,-0.05),(-59.5,-0.1),(-59,-0.15),(-58.5,-0.05),(-58.15,0.2),(-57.95,0.8),(-57.75,0.3),(-57.5,-0.05),(-57.0,-0.1),(-56.5,-0.05),(-56.0,-0.1),(-55.8,0.1),(-55.65,0.6),(-55.45,0.1),(-55.1,-0.2),(-54.85,0.8),(-54.7,2.9),(-54.5,3.6),(-54.3,2.5),(-54.15,1.8),(-54.0,3.8),(-53.85,4.0),(-53.7,3.1),(-53.55,5.0),(-53.45,6.8),(-53.3,4.4),(-53.15,5.4),(-53.0,3.5),(-52.8,1.2),(-52.6,0.4),(-52.3,0.0),(-51.9,-0.1),(-51.5,0.0),(-51.2,0.5),(-51.0,3.2),(-50.85,2.2),(-50.65,0.3),(-50.4,0.0),(-50.2,0.2),(-50.05,0.8),(-49.9,0.1),(-49.6,-0.3),(-49.2,-0.4),(-48.8,-0.5),(-48.4,-0.4),(-48.0,-0.45),(-47.6,-0.3),(-47.2,-0.35),(-46.8,-0.25),(-46.4,-0.3),(-46.0,-0.2),(-45.6,-0.3),(-45.2,-0.25),(-44.8,-0.2),(-44.4,-0.3),(-44.0,-0.1),(-43.7,0.3),(-43.45,1.4),(-43.25,0.5),(-43.0,-0.1),(-42.7,-0.3),(-42.3,-0.2),(-41.9,-0.35),(-41.5,-0.2),(-41.1,-0.3),(-40.7,-0.15),(-40.3,-0.2),(-39.9,-0.1),(-39.5,-0.15),(-39.2,0.2),(-39.0,1.0),(-38.85,2.0),(-38.7,0.6),(-38.5,0.0),(-38.1,-0.1),(-37.8,0.1),(-37.5,0.4),(-37.3,0.5),(-37.0,0.3),(-36.7,-0.05),(-36.3,-0.1),(-36.0,0.0),(-35.5,-0.1),(-35,-0.05)]
L_q = [(-65,0.0),(-64.5,0.1),(-64,-0.05),(-63,0.05),(-62,0.0),(-61,0.05),(-60,-0.05),(-59,0.05),(-58,0.0),(-57,0.05),(-56,0.0),(-55.7,0.2),(-55.3,0.1),(-55.0,0.0),(-54.7,-0.4),(-54.4,-0.7),(-54.1,-0.5),(-53.8,-0.1),(-53.5,0.0),(-53,0.1),(-52.5,0.0),(-52.0,0.1),(-51.5,-0.05),(-51.0,0.05),(-50.5,-0.1),(-50.0,0.05),(-49.5,0.15),(-49.0,0.0),(-48.5,0.05),(-48,-0.05),(-47,0.05),(-46,0.0),(-45,0.05),(-44,-0.05),(-43,0.1),(-42,0.0),(-41,0.05),(-40,-0.05),(-39,0.1),(-38.8,0.2),(-38.5,0.0),(-38,0.05),(-37,0.0),(-36,0.05),(-35,0.0)]
L_u = [(-65,0.0),(-64.7,0.35),(-64.5,0.0),(-64,0.1),(-63.5,-0.05),(-63,0.1),(-62.5,0.0),(-62,0.1),(-61.5,-0.05),(-61,0.05),(-60.5,0.1),(-60,0.0),(-59.5,0.1),(-59,-0.05),(-58.5,0.05),(-58,0.0),(-57.5,0.1),(-57,-0.05),(-56.5,0.0),(-56,0.1),(-55.75,0.65),(-55.5,0.2),(-55.2,0.0),(-54.9,0.1),(-54.5,0.3),(-54.1,0.1),(-53.8,-0.2),(-53.6,-0.5),(-53.35,-0.2),(-53.0,0.0),(-52.5,0.1),(-52.0,0.0),(-51.5,-0.1),(-51.2,-0.3),(-51.0,-0.6),(-50.7,-0.2),(-50.3,0.1),(-50.0,0.0),(-49.5,0.1),(-49,0.0),(-48.5,0.1),(-48,0.05),(-47.5,0.15),(-47,0.0),(-46.5,0.1),(-46,0.05),(-45.5,0.0),(-45,0.1),(-44.5,0.05),(-44,0.15),(-43.5,0.0),(-43.3,0.2),(-43,0.0),(-42.5,0.1),(-42,0.05),(-41.5,0.15),(-41,0.0),(-40.5,0.1),(-40,0.05),(-39.5,0.1),(-39.0,0.2),(-38.8,0.45),(-38.5,0.1),(-38,0.05),(-37.5,0.15),(-37,0.0),(-36.5,0.1),(-36,0.05),(-35.5,0.15),(-35,0.0)]

M_rhcp = [(-55,-0.05),(-54.7,0.0),(-54.4,-0.1),(-54.1,0.05),(-53.8,-0.1),(-53.5,0.0),(-53.2,-0.05),(-53.0,0.1),(-52.8,0.8),(-52.65,1.7),(-52.5,1.2),(-52.3,0.3),(-52.1,0.0),(-51.8,-0.05),(-51.5,0.0),(-51.3,0.1),(-51.1,-0.1),(-50.8,-0.05),(-50.5,-0.1),(-50.2,-0.05),(-49.9,-0.15),(-49.6,-0.1),(-49.3,-0.2),(-49.0,-0.15),(-48.7,-0.2),(-48.4,-0.25),(-48.1,-0.15),(-47.8,-0.2),(-47.5,-0.25),(-47.2,-0.1),(-46.9,0.1),(-46.7,-0.05),(-46.4,-0.15),(-46.1,-0.2),(-45.8,-0.25),(-45.5,-0.2),(-45.2,-0.3),(-44.9,-0.25),(-44.6,-0.35),(-44.3,-0.25),(-44.0,-0.3),(-43.8,-0.1),(-43.6,0.5),(-43.45,1.4),(-43.35,1.65),(-43.2,1.2),(-43.0,0.7),(-42.8,0.4),(-42.6,0.15),(-42.4,-0.05),(-42.1,-0.1),(-41.8,-0.05),(-41.5,-0.15),(-41.2,-0.05),(-40.9,-0.1),(-40.6,0.1),(-40.4,0.25),(-40.2,0.05),(-39.9,0.15),(-39.6,0.3),(-39.4,0.2),(-39.1,0.15),(-38.8,0.3),(-38.5,0.2),(-38.3,0.4),(-38.15,0.75),(-38.0,0.5),(-37.8,0.4),(-37.5,0.25),(-37.2,0.1),(-37.0,0.0),(-36.7,0.05),(-36.4,-0.05),(-36.1,0.1),(-35.8,0.0),(-35.5,0.1),(-35.2,0.05),(-34.9,0.15),(-34.6,0.0),(-34.3,0.1),(-34.0,-0.05),(-33.7,0.1),(-33.4,0.05),(-33.1,0.15),(-32.8,0.0),(-32.5,0.1),(-32.2,0.05),(-31.9,0.1),(-31.6,0.0),(-31.3,0.1),(-31.0,0.15),(-30.7,0.05),(-30.4,0.15),(-30.1,0.2),(-29.8,0.2),(-29.5,0.3),(-29.2,0.25),(-28.9,0.35),(-28.6,0.3),(-28.3,0.25),(-28.0,0.2),(-27.7,0.15),(-27.4,0.1),(-27.1,0.05),(-26.8,0.1),(-26.5,0.0),(-26.2,0.05),(-25.9,-0.05),(-25.6,0.0),(-25.4,-0.2),(-25.2,0.1),(-25.0,0.0)]
M_lhcp = [(-55,0.0),(-54.8,0.2),(-54.6,0.3),(-54.4,0.5),(-54.2,0.8),(-54.0,0.5),(-53.8,0.1),(-53.5,-0.05),(-53.2,0.0),(-52.9,-0.05),(-52.6,0.0),(-52.3,-0.05),(-52.0,0.0),(-51.8,0.2),(-51.6,0.8),(-51.45,1.1),(-51.3,1.0),(-51.15,0.6),(-51.0,1.0),(-50.85,0.9),(-50.7,0.2),(-50.5,-0.1),(-50.2,-0.15),(-49.9,-0.2),(-49.6,-0.25),(-49.3,-0.2),(-49.0,-0.15),(-48.7,-0.2),(-48.4,-0.25),(-48.1,-0.2),(-47.8,-0.15),(-47.5,-0.2),(-47.2,-0.3),(-46.9,-0.2),(-46.6,-0.25),(-46.3,-0.2),(-46.0,-0.3),(-45.7,-0.25),(-45.4,-0.3),(-45.1,-0.35),(-44.8,-0.3),(-44.5,-0.35),(-44.2,-0.4),(-43.9,-0.3),(-43.6,-0.2),(-43.3,-0.15),(-43.0,-0.1),(-42.7,-0.15),(-42.4,-0.1),(-42.1,-0.05),(-41.8,-0.1),(-41.5,0.0),(-41.2,-0.05),(-40.9,0.05),(-40.6,0.2),(-40.35,0.5),(-40.15,0.4),(-39.9,0.1),(-39.6,0.1),(-39.4,0.5),(-39.25,0.75),(-39.1,0.3),(-38.9,0.2),(-38.75,0.6),(-38.6,1.8),(-38.5,2.7),(-38.4,1.8),(-38.25,0.5),(-38.1,0.15),(-37.8,0.05),(-37.5,0.0),(-37.2,0.05),(-36.9,0.1),(-36.6,0.05),(-36.3,0.15),(-36.0,0.0),(-35.7,0.1),(-35.4,0.05),(-35.1,0.15),(-34.8,0.1),(-34.5,0.05),(-34.2,0.1),(-33.9,0.0),(-33.6,0.15),(-33.3,0.05),(-33.0,0.1),(-32.7,0.05),(-32.4,0.15),(-32.1,0.1),(-31.8,0.05),(-31.5,0.15),(-31.2,0.1),(-30.9,0.05),(-30.6,0.15),(-30.3,0.2),(-30.0,0.25),(-29.7,0.2),(-29.4,0.3),(-29.1,0.35),(-28.8,0.4),(-28.5,0.3),(-28.2,0.25),(-27.9,0.15),(-27.6,0.1),(-27.3,0.15),(-27.0,0.05),(-26.7,0.1),(-26.4,0.05),(-26.1,0.0),(-25.8,0.1),(-25.5,0.05),(-25.2,0.1),(-25.0,0.0)]
M_linp = [(-55,0.0),(-43.15,0.0),(-43.05,0.55),(-42.95,0.0),(-40.6,0.0),(-40.5,0.75),(-40.35,0.3),(-40.25,0.0),(-38.8,0.0),(-38.7,0.45),(-38.6,0.0),(-38.4,0.0),(-38.3,0.6),(-38.2,0.0),(-25,0.0)]

N_rhcp = [(-65,0.0),(-64.7,-0.1),(-64.4,0.05),(-64.1,-0.05),(-63.8,0.0),(-63.5,-0.05),(-63.2,0.05),(-62.9,-0.05),(-62.6,0.0),(-62.3,-0.1),(-62.0,0.15),(-61.7,-0.05),(-61.4,0.0),(-61.1,-0.05),(-60.8,0.05),(-60.5,-0.05),(-60.2,0.0),(-59.9,-0.1),(-59.6,0.0),(-59.3,0.05),(-59.0,-0.05),(-58.7,0.0),(-58.4,-0.1),(-58.1,0.05),(-57.8,0.0),(-57.5,-0.05),(-57.2,0.05),(-56.9,0.0),(-56.6,-0.05),(-56.3,0.1),(-56.0,0.0),(-55.7,-0.05),(-55.4,0.05),(-55.1,0.0),(-54.8,-0.05),(-54.5,0.0),(-54.2,0.05),(-53.9,-0.05),(-53.6,0.1),(-53.3,0.0),(-53.1,0.3),(-52.95,1.5),(-52.8,3.4),(-52.65,2.0),(-52.5,0.5),(-52.3,0.0),(-52.0,-0.05),(-51.7,-0.1),(-51.4,-0.05),(-51.1,-0.15),(-50.8,-0.2),(-50.5,-0.25),(-50.2,-0.2),(-49.9,-0.3),(-49.6,-0.2),(-49.3,-0.25),(-49.0,-0.15),(-48.7,-0.2),(-48.4,-0.15),(-48.1,-0.2),(-47.8,-0.1),(-47.5,-0.15),(-47.2,-0.1),(-46.9,-0.15),(-46.6,-0.1),(-46.3,-0.05),(-46.0,-0.1),(-45.7,-0.05),(-45.4,-0.1),(-45.1,0.0),(-44.8,-0.05),(-44.5,-0.1),(-44.2,-0.05),(-43.9,-0.1),(-43.7,0.0),(-43.5,0.4),(-43.35,0.62),(-43.2,0.5),(-43.05,0.55),(-42.9,0.3),(-42.7,0.1),(-42.5,-0.05),(-42.2,0.0),(-41.9,-0.05),(-41.6,0.0),(-41.3,0.05),(-41.0,0.0),(-40.7,0.05),(-40.4,0.1),(-40.1,0.05),(-39.8,0.1),(-39.5,0.05),(-39.2,0.15),(-38.9,0.1),(-38.6,0.15),(-38.3,0.1),(-38.0,0.15),(-37.7,0.2),(-37.4,0.1),(-37.1,0.05),(-36.8,0.1),(-36.5,0.0),(-36.2,0.1),(-35.9,0.05),(-35.6,0.0),(-35.3,0.05),(-35.0,0.0)]
N_lhcp = [(-65,0.0),(-64.7,0.05),(-64.4,-0.05),(-64.1,0.0),(-63.8,0.05),(-63.5,-0.05),(-63.2,0.0),(-62.9,0.05),(-62.6,-0.05),(-62.3,0.0),(-62.0,-0.05),(-61.7,0.05),(-61.4,0.0),(-61.1,-0.05),(-60.8,0.0),(-60.5,-0.1),(-60.2,0.0),(-59.9,0.05),(-59.6,-0.05),(-59.3,0.0),(-59.0,0.05),(-58.7,-0.05),(-58.4,0.0),(-58.1,-0.05),(-57.8,0.05),(-57.5,0.0),(-57.2,-0.05),(-56.9,0.0),(-56.6,0.05),(-56.3,-0.05),(-56.0,0.0),(-55.7,0.05),(-55.4,0.0),(-55.1,0.1),(-54.9,0.3),(-54.7,0.8),(-54.55,1.4),(-54.4,1.7),(-54.25,1.2),(-54.1,0.5),(-53.9,0.2),(-53.6,0.05),(-53.3,0.0),(-53.0,-0.05),(-52.7,0.0),(-52.4,-0.05),(-52.1,0.0),(-51.9,0.2),(-51.75,1.2),(-51.6,2.3),(-51.5,2.6),(-51.4,1.5),(-51.3,0.7),(-51.2,0.6),(-51.1,1.5),(-51.0,2.0),(-50.9,1.0),(-50.8,0.3),(-50.6,0.0),(-50.3,-0.1),(-50.0,-0.15),(-49.7,-0.2),(-49.4,-0.15),(-49.1,-0.2),(-48.8,-0.25),(-48.5,-0.2),(-48.2,-0.25),(-47.9,-0.15),(-47.6,-0.2),(-47.3,-0.25),(-47.0,-0.2),(-46.7,-0.25),(-46.4,-0.2),(-46.1,-0.3),(-45.8,-0.2),(-45.5,-0.25),(-45.2,-0.15),(-44.9,-0.2),(-44.6,-0.1),(-44.3,-0.15),(-44.0,-0.1),(-43.7,-0.05),(-43.4,-0.1),(-43.1,0.0),(-42.8,-0.05),(-42.5,0.0),(-42.2,-0.05),(-41.9,0.05),(-41.6,0.0),(-41.3,0.05),(-41.0,0.0),(-40.7,0.05),(-40.4,0.1),(-40.1,0.05),(-39.8,0.1),(-39.5,0.05),(-39.2,0.15),(-38.9,0.2),(-38.7,0.35),(-38.5,0.5),(-38.3,0.45),(-38.1,0.2),(-37.8,0.1),(-37.5,0.05),(-37.2,0.1),(-36.9,0.05),(-36.6,0.15),(-36.3,0.05),(-36.0,0.1),(-35.7,0.0),(-35.4,0.1),(-35.0,0.05)]
N_linp = [(-65,0.0),(-35,0.0)]

O_i = [(-55,-0.1),(-54.8,0.0),(-54.6,0.1),(-54.45,0.4),(-54.3,0.85),(-54.15,0.6),(-54.0,0.2),(-53.8,0.0),(-53.6,0.1),(-53.4,-0.05),(-53.2,0.05),(-53.0,0.1),(-52.85,0.6),(-52.7,1.55),(-52.55,1.2),(-52.4,0.5),(-52.2,0.1),(-52.0,0.0),(-51.8,0.05),(-51.6,0.4),(-51.5,1.0),(-51.35,1.0),(-51.2,0.9),(-51.1,0.6),(-50.95,0.8),(-50.8,0.3),(-50.6,-0.1),(-50.4,-0.2),(-50.2,-0.3),(-50.0,-0.35),(-49.8,-0.3),(-49.6,-0.4),(-49.4,-0.3),(-49.2,-0.35),(-49.0,-0.45),(-48.8,-0.3),(-48.6,-0.25),(-48.4,-0.35),(-48.2,-0.3),(-48.0,-0.4),(-47.8,-0.25),(-47.6,-0.3),(-47.4,-0.2),(-47.2,-0.25),(-47.0,-0.15),(-46.8,-0.3),(-46.6,-0.25),(-46.4,-0.35),(-46.2,-0.4),(-46.0,-0.3),(-45.8,-0.45),(-45.6,-0.5),(-45.4,-0.45),(-45.2,-0.55),(-45.0,-0.6),(-44.8,-0.55),(-44.6,-0.75),(-44.4,-0.6),(-44.2,-0.5),(-44.0,-0.45),(-43.8,-0.2),(-43.6,0.4),(-43.45,1.2),(-43.35,1.45),(-43.2,1.2),(-43.05,0.8),(-42.9,0.5),(-42.7,0.1),(-42.5,-0.1),(-42.3,-0.2),(-42.1,-0.35),(-41.9,-0.3),(-41.7,-0.2),(-41.5,-0.25),(-41.3,-0.15),(-41.1,-0.1),(-40.9,0.0),(-40.7,0.3),(-40.55,0.9),(-40.4,0.8),(-40.25,0.6),(-40.1,0.35),(-39.9,0.3),(-39.7,0.35),(-39.5,0.5),(-39.35,0.95),(-39.2,0.7),(-39.05,0.5),(-38.9,0.4),(-38.75,0.7),(-38.6,2.0),(-38.5,2.95),(-38.4,2.0),(-38.25,0.9),(-38.1,0.55),(-37.95,0.65),(-37.8,0.5),(-37.6,0.4),(-37.4,0.25),(-37.2,0.2),(-37.0,0.1),(-36.8,0.15),(-36.6,0.0),(-36.4,0.1),(-36.2,0.05),(-36.0,0.15),(-35.8,0.2),(-35.6,0.1),(-35.4,0.2),(-35.2,0.05),(-35.0,0.15),(-34.8,0.0),(-34.6,0.1),(-34.4,0.05),(-34.2,0.15),(-34.0,0.0),(-33.8,0.1),(-33.6,0.05),(-33.4,0.0),(-33.2,0.1),(-33.0,0.05),(-32.8,0.15),(-32.6,0.0),(-32.4,0.05),(-32.2,-0.05),(-32.0,0.05),(-31.8,0.0),(-31.6,0.1),(-31.4,0.0),(-31.2,0.05),(-31.0,0.0),(-30.8,0.1),(-30.6,0.15),(-30.4,0.1),(-30.2,0.3),(-30.0,0.35),(-29.8,0.3),(-29.6,0.4),(-29.4,0.45),(-29.2,0.5),(-29.0,0.55),(-28.8,0.6),(-28.6,0.5),(-28.4,0.55),(-28.2,0.4),(-28.0,0.3),(-27.8,0.25),(-27.6,0.2),(-27.4,0.1),(-27.2,0.15),(-27.0,0.05),(-26.8,0.15),(-26.6,0.1),(-26.4,0.2),(-26.2,0.05),(-26.0,0.1),(-25.8,0.0),(-25.6,0.15),(-25.4,-0.2),(-25.2,0.1),(-25.0,0.05)]
O_q = [(-55,0.0),(-54.7,0.1),(-54.4,-0.05),(-54.1,0.05),(-53.8,-0.1),(-53.5,0.05),(-53.2,0.0),(-52.9,0.1),(-52.6,-0.05),(-52.3,0.05),(-52.0,0.0),(-51.7,0.1),(-51.5,0.3),(-51.3,0.0),(-51.0,-0.1),(-50.7,0.05),(-50.4,-0.05),(-50.1,0.1),(-49.8,0.0),(-49.5,0.05),(-49.2,-0.05),(-48.9,0.1),(-48.6,0.0),(-48.3,0.05),(-48.0,-0.1),(-47.7,0.05),(-47.4,0.0),(-47.1,0.1),(-46.8,-0.05),(-46.5,0.05),(-46.2,0.0),(-45.9,0.1),(-45.6,-0.05),(-45.3,0.05),(-45.0,0.0),(-44.7,-0.1),(-44.4,0.05),(-44.1,0.0),(-43.8,0.05),(-43.5,-0.05),(-43.2,0.1),(-42.9,0.0),(-42.6,-0.05),(-42.3,0.05),(-42.0,0.0),(-41.7,0.05),(-41.4,-0.05),(-41.1,0.0),(-40.8,0.05),(-40.6,-0.2),(-40.45,-0.65),(-40.3,-0.1),(-40.1,0.05),(-39.8,0.1),(-39.5,0.15),(-39.25,0.35),(-39.0,0.05),(-38.8,-0.2),(-38.65,-0.55),(-38.5,-0.3),(-38.35,-0.55),(-38.2,-0.1),(-38.0,0.05),(-37.7,0.0),(-37.4,0.1),(-37.1,0.0),(-36.8,0.05),(-36.5,-0.05),(-36.2,0.1),(-35.9,0.0),(-35.6,0.05),(-35.3,-0.1),(-35.0,0.05),(-34.7,0.0),(-34.5,-0.3),(-34.3,0.0),(-34.0,0.05),(-33.7,-0.05),(-33.4,0.1),(-33.1,0.0),(-32.8,0.05),(-32.5,-0.05),(-32.2,0.05),(-31.9,0.0),(-31.6,0.1),(-31.3,-0.05),(-31.0,0.05),(-30.7,0.0),(-30.4,0.1),(-30.1,0.0),(-29.8,0.05),(-29.5,0.15),(-29.2,0.1),(-28.9,0.2),(-28.6,0.05),(-28.3,0.1),(-28.0,0.0),(-27.7,0.1),(-27.4,0.05),(-27.1,0.15),(-26.8,0.0),(-26.5,0.1),(-26.2,0.05),(-25.9,0.15),(-25.6,0.0),(-25.3,0.1),(-25.0,0.05)]
O_u = [(-55,0.05),(-54.7,-0.1),(-54.4,0.15),(-54.1,-0.05),(-53.8,0.1),(-53.5,0.0),(-53.2,0.2),(-52.9,-0.1),(-52.6,0.1),(-52.3,0.0),(-52.0,0.25),(-51.7,-0.05),(-51.4,0.1),(-51.1,-0.1),(-50.8,0.15),(-50.5,0.0),(-50.2,0.1),(-49.9,-0.15),(-49.6,0.05),(-49.3,0.15),(-49.0,-0.1),(-48.7,0.1),(-48.4,0.0),(-48.1,0.2),(-47.8,-0.05),(-47.5,0.1),(-47.2,-0.1),(-46.9,0.15),(-46.6,0.0),(-46.3,0.1),(-46.0,-0.15),(-45.7,0.05),(-45.4,0.2),(-45.1,-0.05),(-44.8,0.1),(-44.5,-0.1),(-44.2,0.15),(-43.9,0.0),(-43.6,0.1),(-43.3,0.25),(-43.15,0.6),(-43.0,0.2),(-42.8,-0.1),(-42.5,0.1),(-42.2,-0.05),(-41.9,0.15),(-41.6,0.0),(-41.3,0.1),(-41.0,-0.1),(-40.7,0.1),(-40.5,0.5),(-40.35,0.2),(-40.1,-0.05),(-39.8,0.1),(-39.5,-0.05),(-39.2,0.0),(-38.9,0.1),(-38.7,0.2),(-38.5,-0.2),(-38.35,-0.3),(-38.2,0.0),(-37.9,0.1),(-37.6,-0.05),(-37.3,0.15),(-37.0,0.0),(-36.7,0.1),(-36.4,-0.1),(-36.1,0.15),(-35.8,0.0),(-35.5,0.1),(-35.2,-0.1),(-34.9,0.1),(-34.6,0.0),(-34.3,0.15),(-34.0,-0.05),(-33.7,0.1),(-33.4,0.0),(-33.1,0.15),(-32.8,-0.1),(-32.5,0.05),(-32.2,0.15),(-31.9,-0.05),(-31.6,0.1),(-31.3,0.0),(-31.0,0.15),(-30.7,-0.1),(-30.4,0.05),(-30.1,0.1),(-29.8,-0.05),(-29.5,0.0),(-29.2,-0.1),(-28.9,0.05),(-28.6,-0.05),(-28.3,0.1),(-28.0,0.0),(-27.7,0.15),(-27.4,-0.05),(-27.1,0.1),(-26.8,0.0),(-26.5,0.15),(-26.2,-0.1),(-25.9,0.1),(-25.6,0.05),(-25.3,0.15),(-25.0,0.0)]

P_i = [(-65,-0.05),(-64.8,0.1),(-64.6,-0.1),(-64.4,-0.05),(-64.2,-0.15),(-64.0,-0.2),(-63.8,-0.1),(-63.6,-0.15),(-63.4,0.0),(-63.2,-0.1),(-63.0,-0.05),(-62.8,-0.15),(-62.6,-0.05),(-62.4,0.0),(-62.2,-0.1),(-62.0,-0.05),(-61.8,0.05),(-61.6,-0.1),(-61.4,-0.15),(-61.2,-0.05),(-61.0,0.0),(-60.8,-0.1),(-60.6,0.05),(-60.4,-0.05),(-60.2,0.0),(-60.0,-0.1),(-59.8,0.05),(-59.6,-0.05),(-59.4,-0.15),(-59.2,-0.05),(-59.0,0.0),(-58.8,-0.1),(-58.6,0.05),(-58.4,-0.05),(-58.2,0.0),(-58.0,-0.1),(-57.8,0.0),(-57.6,0.05),(-57.4,-0.05),(-57.2,0.1),(-57.0,0.0),(-56.8,-0.05),(-56.6,0.05),(-56.4,0.0),(-56.2,0.1),(-56.0,0.0),(-55.8,0.05),(-55.6,-0.05),(-55.4,0.0),(-55.2,0.1),(-55.0,0.05),(-54.8,0.2),(-54.6,0.8),(-54.45,1.65),(-54.3,1.4),(-54.15,0.8),(-54.0,0.3),(-53.8,0.2),(-53.6,0.15),(-53.4,0.1),(-53.2,0.2),(-53.05,0.6),(-52.9,2.0),(-52.8,3.4),(-52.7,2.5),(-52.55,1.0),(-52.4,0.3),(-52.2,0.1),(-52.0,0.15),(-51.85,0.3),(-51.7,1.2),(-51.55,2.2),(-51.45,2.5),(-51.35,1.8),(-51.25,1.0),(-51.15,0.6),(-51.05,1.95),(-50.95,1.0),(-50.8,0.2),(-50.65,-0.3),(-50.5,-0.45),(-50.3,-0.3),(-50.1,-0.35),(-49.9,-0.25),(-49.7,-0.3),(-49.5,-0.35),(-49.3,-0.3),(-49.1,-0.4),(-48.9,-0.3),(-48.7,-0.35),(-48.5,-0.3),(-48.3,-0.4),(-48.1,-0.35),(-47.9,-0.45),(-47.7,-0.4),(-47.5,-0.45),(-47.3,-0.3),(-47.1,-0.35),(-46.9,-0.3),(-46.7,-0.4),(-46.5,-0.3),(-46.3,-0.35),(-46.1,-0.25),(-45.9,-0.35),(-45.7,-0.3),(-45.5,-0.25),(-45.3,-0.35),(-45.1,-0.3),(-44.9,-0.2),(-44.7,-0.35),(-44.5,-0.25),(-44.3,-0.3),(-44.1,-0.2),(-43.9,-0.25),(-43.7,-0.1),(-43.55,0.3),(-43.4,0.45),(-43.25,0.4),(-43.1,0.2),(-42.9,-0.05),(-42.7,-0.2),(-42.5,-0.15),(-42.3,-0.25),(-42.1,-0.2),(-41.9,-0.3),(-41.7,-0.15),(-41.5,-0.2),(-41.3,-0.1),(-41.1,-0.15),(-40.9,-0.05),(-40.7,-0.1),(-40.5,0.0),(-40.3,-0.05),(-40.1,0.05),(-39.9,0.0),(-39.7,0.05),(-39.5,0.1),(-39.3,0.0),(-39.1,0.1),(-38.9,0.25),(-38.75,0.5),(-38.6,0.7),(-38.45,0.45),(-38.3,0.2),(-38.1,0.1),(-37.9,0.15),(-37.7,0.05),(-37.5,0.1),(-37.3,0.0),(-37.1,0.1),(-36.9,0.05),(-36.7,0.15),(-36.5,0.0),(-36.3,0.05),(-36.1,-0.05),(-35.9,0.05),(-35.7,0.1),(-35.5,0.15),(-35.3,-0.05),(-35.1,0.05),(-35.0,0.0)]
P_q = [(-65,0.0),(-64.7,0.1),(-64.4,-0.05),(-64.1,0.05),(-63.8,-0.1),(-63.5,0.05),(-63.2,0.0),(-62.9,0.1),(-62.6,-0.05),(-62.3,0.05),(-62.0,-0.1),(-61.7,0.05),(-61.4,0.0),(-61.1,0.1),(-60.8,-0.05),(-60.5,0.05),(-60.2,-0.1),(-59.9,0.05),(-59.6,0.0),(-59.3,0.1),(-59.0,-0.05),(-58.7,0.05),(-58.4,-0.1),(-58.1,0.0),(-57.8,0.1),(-57.5,-0.05),(-57.2,0.05),(-56.9,0.0),(-56.6,0.1),(-56.3,-0.05),(-56.0,0.0),(-55.7,0.05),(-55.4,-0.05),(-55.1,0.1),(-54.8,0.0),(-54.5,0.05),(-54.2,-0.05),(-53.9,0.1),(-53.6,0.0),(-53.3,0.05),(-53.0,-0.05),(-52.7,0.15),(-52.4,0.0),(-52.1,0.05),(-51.8,0.1),(-51.5,0.2),(-51.3,0.35),(-51.1,0.05),(-50.8,-0.05),(-50.5,0.05),(-50.2,-0.1),(-49.9,0.05),(-49.6,0.0),(-49.3,0.1),(-49.0,-0.05),(-48.7,0.05),(-48.4,0.0),(-48.1,-0.1),(-47.8,0.05),(-47.5,0.0),(-47.2,-0.15),(-46.9,0.05),(-46.6,0.0),(-46.3,0.1),(-46.0,-0.05),(-45.7,0.05),(-45.4,0.0),(-45.1,0.1),(-44.8,-0.05),(-44.5,0.05),(-44.2,0.0),(-43.9,0.05),(-43.6,0.1),(-43.3,0.0),(-43.0,-0.1),(-42.7,0.05),(-42.4,0.0),(-42.1,0.1),(-41.8,-0.05),(-41.5,0.05),(-41.2,0.0),(-40.9,0.1),(-40.6,-0.05),(-40.3,0.05),(-40.0,0.0),(-39.7,0.1),(-39.4,-0.05),(-39.1,0.05),(-38.8,0.1),(-38.5,0.0),(-38.2,0.05),(-37.9,0.0),(-37.6,0.1),(-37.3,-0.05),(-37.0,0.05),(-36.7,0.0),(-36.4,0.15),(-36.1,-0.05),(-35.8,0.05),(-35.5,0.0),(-35.2,0.1),(-35.0,-0.05)]
P_u = [(-65,0.05),(-64.7,-0.1),(-64.4,0.1),(-64.1,-0.05),(-63.8,0.15),(-63.5,0.0),(-63.2,0.1),(-62.9,-0.1),(-62.6,0.2),(-62.3,0.0),(-62.0,0.1),(-61.7,-0.05),(-61.4,0.15),(-61.1,0.0),(-60.8,0.1),(-60.5,-0.1),(-60.2,0.1),(-59.9,0.0),(-59.6,0.15),(-59.3,-0.05),(-59.0,0.1),(-58.7,0.0),(-58.4,0.15),(-58.1,-0.1),(-57.8,0.05),(-57.5,0.15),(-57.2,-0.05),(-56.9,0.1),(-56.6,0.0),(-56.3,0.15),(-56.0,-0.05),(-55.7,0.1),(-55.4,0.0),(-55.1,0.15),(-54.8,-0.05),(-54.5,0.1),(-54.2,0.0),(-53.9,0.15),(-53.6,0.05),(-53.3,0.1),(-53.0,0.0),(-52.8,0.2),(-52.5,0.05),(-52.2,0.15),(-51.9,0.0),(-51.6,0.1),(-51.4,0.2),(-51.1,0.0),(-50.9,-0.1),(-50.7,-0.25),(-50.5,0.0),(-50.2,0.1),(-49.9,-0.05),(-49.6,0.15),(-49.3,0.0),(-49.0,0.1),(-48.7,-0.05),(-48.4,0.15),(-48.1,0.0),(-47.8,0.1),(-47.5,-0.05),(-47.2,0.1),(-46.9,0.0),(-46.6,0.15),(-46.3,-0.05),(-46.0,0.1),(-45.7,0.0),(-45.4,0.15),(-45.1,0.05),(-44.8,0.1),(-44.5,-0.05),(-44.2,0.1),(-43.9,0.0),(-43.6,0.15),(-43.3,0.3),(-43.0,0.05),(-42.7,0.1),(-42.5,0.25),(-42.2,0.0),(-41.9,0.15),(-41.6,-0.05),(-41.3,0.1),(-41.0,0.0),(-40.7,0.15),(-40.4,0.05),(-40.1,0.1),(-39.8,-0.05),(-39.5,0.15),(-39.2,0.05),(-38.9,0.2),(-38.6,0.3),(-38.3,0.1),(-38.0,0.0),(-37.7,0.15),(-37.4,0.05),(-37.1,0.1),(-36.8,-0.05),(-36.5,0.1),(-36.2,0.0),(-35.9,0.15),(-35.6,0.05),(-35.3,0.1),(-35.0,0.0)]

# ---------------- panel definitions ----------------
PANELS = [
    (SRC_1, "1665-MHz", "circ", X_TICKS_A, YT_A, (A_rhcp, A_lhcp, A_linp)),
    (SRC_2, "1665-MHz", "circ", X_TICKS_B, YT_B, (B_rhcp, B_lhcp, B_linp)),
    (SRC_1, "1665-MHz", "stokes", X_TICKS_A, YT_C, (C_i, C_q, C_u)),
    (SRC_2, "1665-MHz", "stokes", X_TICKS_B, YT_D, (D_i, D_q, D_u)),
    (SRC_1, "1667-MHz", "circ", X_TICKS_A, YT_E, (E_rhcp, E_lhcp, E_linp)),
    (SRC_2, "1667-MHz", "circ", X_TICKS_B, YT_F, (F_rhcp, F_lhcp, F_linp)),
    (SRC_1, "1667-MHz", "stokes", X_TICKS_A, YT_G, (G_i, G_q, G_u)),
    (SRC_2, "1667-MHz", "stokes", X_TICKS_B, YT_H, (H_i, H_q, H_u)),
    (SRC_3, "1665-MHz", "circ", X_TICKS_A, YT_I, (I_rhcp, I_lhcp, I_linp)),
    (SRC_4, "1665-MHz", "circ", X_TICKS_C, YT_J, (J_rhcp, J_lhcp, J_linp)),
    (SRC_3, "1665-MHz", "stokes", X_TICKS_A, YT_K, (K_i, K_q, K_u)),
    (SRC_4, "1665-MHz", "stokes", X_TICKS_C, YT_L, (L_i, L_q, L_u)),
    (SRC_3, "1667-MHz", "circ", X_TICKS_A, YT_M, (M_rhcp, M_lhcp, M_linp)),
    (SRC_4, "1667-MHz", "circ", X_TICKS_C, YT_N, (N_rhcp, N_lhcp, N_linp)),
    (SRC_3, "1667-MHz", "stokes", X_TICKS_A, YT_O, (O_i, O_q, O_u)),
    (SRC_4, "1667-MHz", "stokes", X_TICKS_C, YT_P, (P_i, P_q, P_u)),
]

FONT = "Liberation Serif"
RED = "#ff1a1a"
CYAN = "#00ffff"
STYLES = {
    "circ": [dict(color="black", line_width=1.3, line_dash="solid"),
             dict(color=RED, line_width=1.3, line_dash="1 1"),
             dict(color=CYAN, line_width=2.0, line_dash="solid")],
    "stokes": [dict(color=CYAN, line_width=1.6, line_dash="solid"),
               dict(color="black", line_width=1.2, line_dash="1 1"),
               dict(color=RED, line_width=1.6, line_dash="4 2")],
}

W, H = 579, 222
FRAME_H = 150
TOP = 9


def style_axis(ax, ticks, minor, show_labels):
    ax.ticker = FixedTicker(ticks=ticks, minor_ticks=minor)
    ax.major_tick_in = 7
    ax.major_tick_out = 0
    ax.minor_tick_in = 3
    ax.minor_tick_out = 0
    ax.axis_line_color = "black"
    ax.major_tick_line_color = "black"
    ax.minor_tick_line_color = "black"
    if show_labels:
        ax.formatter = CustomJSTickFormatter(code="return tick.toString();")
        ax.major_label_text_font = FONT
        ax.major_label_text_font_size = "12px"
        ax.major_label_text_color = "black"
    else:
        ax.formatter = CustomJSTickFormatter(code="return '';")
        ax.major_label_standoff = 0


def make_panel(idx, spec):
    src, freq, kind, xt, yt, series = spec
    col = idx % 2
    p = figure(width=W, height=H, output_backend="svg", toolbar_location=None, tools="",
               x_range=Range1d(xt[0], xt[-1]), y_range=Range1d(yt[0], yt[-1]),
               min_border_left=70 if col == 0 else 63,
               min_border_right=9 if col == 0 else 16,
               min_border_top=TOP, min_border_bottom=H - TOP - FRAME_H)
    p.background_fill_color = "white"
    p.border_fill_color = "white"
    p.outline_line_color = "black"
    p.outline_line_width = 1
    p.grid.visible = False

    xminor = list(range(xt[0], xt[-1] + 1))
    style_axis(p.xaxis[0], xt, xminor, True)
    style_axis(p.yaxis[0], yt, [], True)
    p.xaxis[0].major_label_standoff = 20
    p.xaxis[0].axis_label = "LSR Velocity (km/s)"
    p.xaxis[0].axis_label_standoff = 0
    p.yaxis[0].axis_label = "Flux Density (Jy)"
    p.yaxis[0].axis_label_standoff = 8
    for ax in (p.xaxis[0], p.yaxis[0]):
        ax.axis_label_text_font = FONT
        ax.axis_label_text_font_size = "24px"
        ax.axis_label_text_font_style = "normal"
        ax.axis_label_text_color = "black"

    top_ax = LinearAxis()
    style_axis(top_ax, xt, xminor, False)
    p.add_layout(top_ax, "above")
    right_ax = LinearAxis()
    style_axis(right_ax, yt, [], False)
    p.add_layout(right_ax, "right")

    names = CIRC_NAMES if kind == "circ" else STOKES_NAMES
    for data, st in zip(series, STYLES[kind]):
        p.line(x=[v for v, _ in data], y=[f for _, f in data],
               line_color=st["color"], line_width=st["line_width"], line_dash=st["line_dash"])

    # source / frequency text
    p.add_layout(Label(x=26, y=FRAME_H - 16, x_units="screen", y_units="screen", text=src,
                       text_font=FONT, text_font_size="20px", text_baseline="middle",
                       text_color="black"))
    p.add_layout(Label(x=26, y=FRAME_H - 33, x_units="screen", y_units="screen", text=freq,
                       text_font=FONT, text_font_size="20px", text_baseline="middle",
                       text_color="black"))

    # key (text on the left of the sample line, gnuplot style)
    for k, (name, st) in enumerate(zip(names, STYLES[kind])):
        yk = FRAME_H - 12.5 - 13.5 * k
        p.add_layout(Label(x=440, y=yk, x_units="screen", y_units="screen", text=name,
                           text_font=FONT, text_font_size="13px", text_align="right",
                           text_baseline="middle", text_color="black"))
        p.add_layout(Arrow(end=None, x_start=447, y_start=yk, x_end=485, y_end=yk,
                           start_units="screen", end_units="screen",
                           line_color=st["color"], line_width=st["line_width"],
                           line_dash=st["line_dash"]))
    return p


figs = [make_panel(i, s) for i, s in enumerate(PANELS)]
grid = gridplot([figs[i:i + 2] for i in range(0, len(figs), 2)], toolbar_location=None)

open("out.html", "w").write(file_html(grid, INLINE))
